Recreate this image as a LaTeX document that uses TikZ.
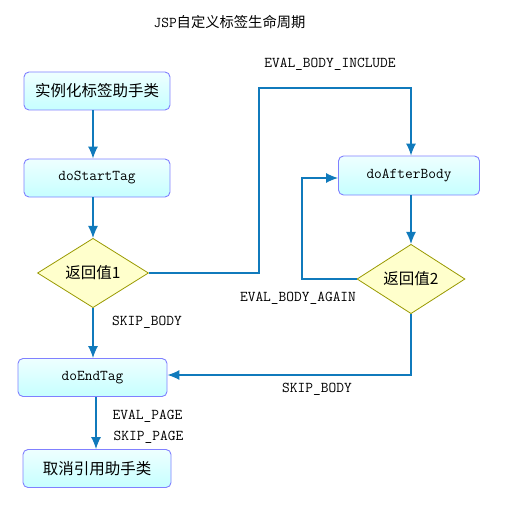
\documentclass[tikz,border=0pt]{standalone}
\usepackage{fontspec}
\newfontfamily\cjk{Noto Sans CJK SC}
\usetikzlibrary{shapes.geometric,arrows.meta}
\definecolor{lineblue}{RGB}{16,122,188}
\definecolor{boxline}{RGB}{128,128,255}
\definecolor{boxtop}{RGB}{238,255,255}
\definecolor{boxbot}{RGB}{198,255,255}
\definecolor{dfill}{RGB}{255,255,204}
\definecolor{dline}{RGB}{153,153,0}
\tikzset{
  procbox/.style={draw=boxline, line width=0.9pt, rounded corners=5pt, top color=boxtop, bottom color=boxbot,
    minimum width=#1, minimum height=38pt, inner sep=0pt, font=\fontsize{15}{17}\ttfamily},
  decbox/.style={diamond, draw=dline, line width=0.8pt, fill=dfill, inner sep=0pt, font=\fontsize{15.5}{17}\cjk},
  conn/.style={draw=lineblue, line width=1.2pt},
  arr/.style={conn, -{Latex[length=12pt,width=10pt]}},
  lbl/.style={font=\fontsize{15}{17}\ttfamily, inner sep=0pt}
}
\begin{document}
\begin{tikzpicture}[x=1pt,y=-1pt]
\fill[white] (0,0) rectangle (504,505);
\useasboundingbox (0,0) rectangle (504,505);

\node[inner sep=0pt] (title) at (229.5,22) {\fontsize{15}{17}\ttfamily JSP\fontsize{14.3}{16}\cjk 自定义标签生命周期};

\node[procbox=146pt] (inst) at (97,91) {\fontsize{15.5}{17}\cjk 实例化标签助手类};
\node[procbox=146pt] (start) at (97,178) {doStartTag};
\node[decbox, minimum width=111pt, minimum height=59pt] (d1) at (93,273) {返回值1};
\node[procbox=149pt] (end) at (92.5,377.5) {doEndTag};
\node[procbox=148pt] (rel) at (97,468.5) {\fontsize{15.5}{17}\cjk 取消引用助手类};
\node[procbox=141pt, minimum height=39pt] (after) at (409,175.5) {doAfterBody};
\node[decbox, minimum width=108pt, minimum height=52pt] (d2) at (411,279) {返回值2};

\coordinate (c1) at (259,273);
\coordinate (c2) at (259,88);
\coordinate (c3) at (411,88);
\coordinate (c4) at (302,279);
\coordinate (c5) at (302,178);
\coordinate (c6) at (411,375);
\coordinate (c7) at (96,0);

\draw[arr] (inst.south -| d1) -- (start.north -| d1);
\draw[arr] (start.south -| d1) -- (d1.north);
\draw[arr] (d1.south) -- (end.north -| d1);
\draw[arr] (end.south -| c7) -- (rel.north -| c7);
\draw[arr] (d1.east) -- (c1) -- (c2) -- (c3) -- (after.north -| c3);
\draw[arr] (after.south -| d2) -- (d2.north);
\draw[arr] (d2.west) -- (c4) -- (c5) -- (after.west |- c5);
\draw[arr] (d2.south) -- (c6) -- (end.east |- c6);

\node[lbl] (l1) at (330,64) {EVAL\_BODY\_INCLUDE};
\node[lbl] (l2) at (147,322) {SKIP\_BODY};
\node[lbl] (l3) at (298,298) {EVAL\_BODY\_AGAIN};
\node[lbl] (l4) at (317,389) {SKIP\_BODY};
\node[lbl] (l5) at (147.5,416) {EVAL\_PAGE};
\node[lbl] (l6) at (148.5,437) {SKIP\_PAGE};
\end{tikzpicture}
\end{document}
